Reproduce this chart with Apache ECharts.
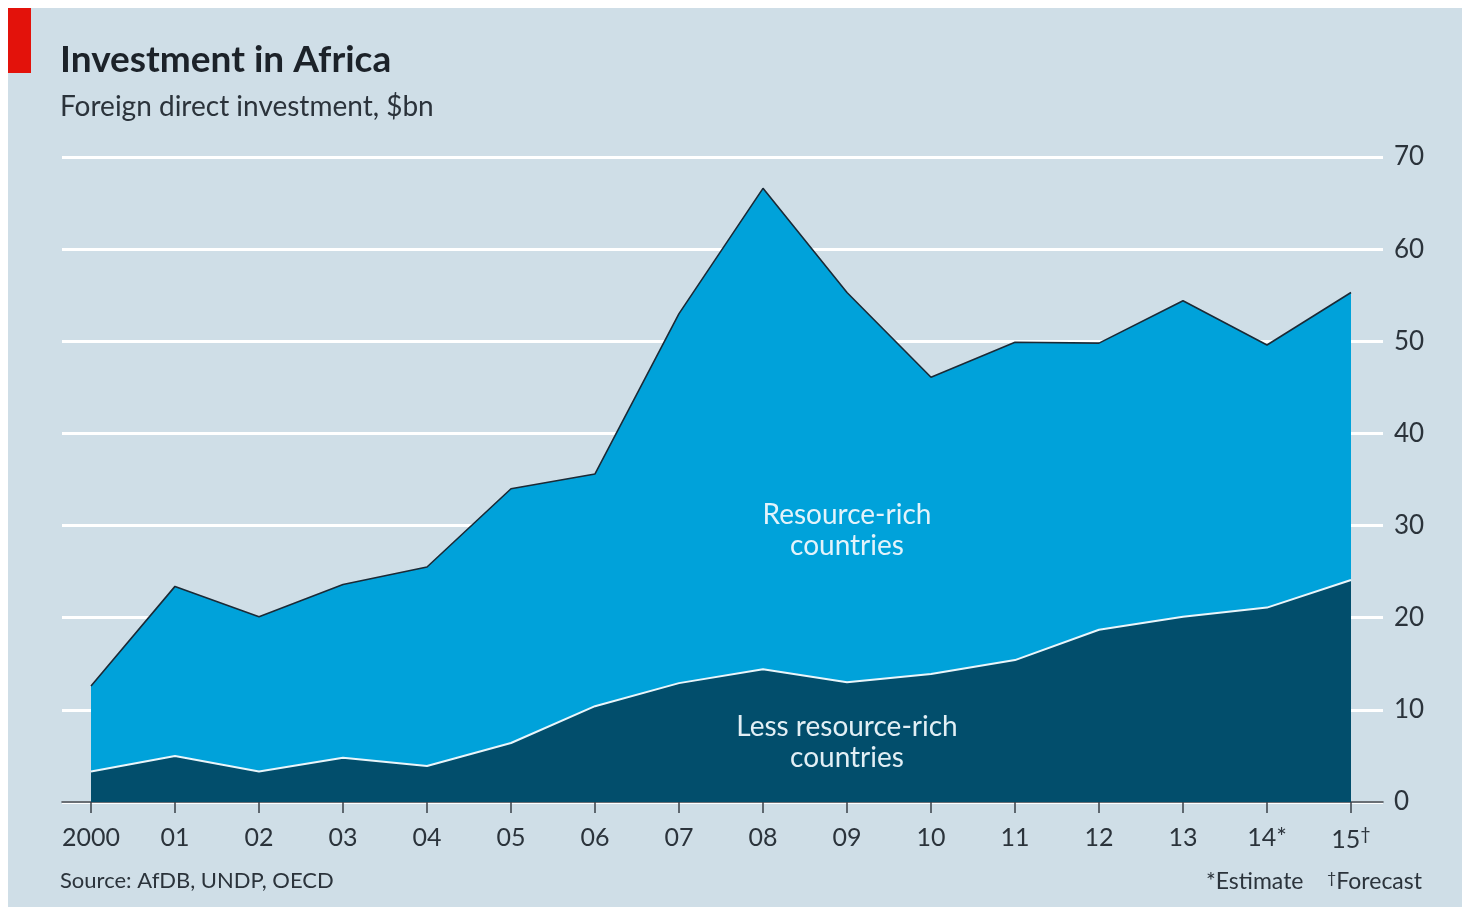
<!DOCTYPE html>
<html>
<head>
<meta charset="utf-8">
<script src="https://cdn.jsdelivr.net/npm/echarts@6/dist/echarts.min.js"></script>
<style>
html,body{margin:0;padding:0;background:#ffffff;width:1462px;height:907px;overflow:hidden;}
#c{position:absolute;left:8px;top:8px;width:1454px;height:899px;background:#cfdee7;}
</style>
</head>
<body>
<div id="c"></div>
<script>
const categories = ['2000','01','02','03','04','05','06','07','08','09','10','11','12','13','14*','15†'];
const lessResourceRich = [3.3, 5.0, 3.3, 4.8, 3.9, 6.4, 10.4, 12.9, 14.4, 13.0, 13.9, 15.4, 18.7, 20.1, 21.1, 24.1];
const resourceRich = [9.3, 18.4, 16.8, 18.8, 21.6, 27.6, 25.2, 40.1, 52.2, 42.3, 32.2, 34.5, 31.1, 34.3, 28.5, 31.2];
const yTicks = {min: 0, max: 70, interval: 10};

const FONT = 'Lato';
const TXT = '#2b333b';
const chart = echarts.init(document.getElementById('c'), null, {renderer: 'canvas'});

const option = {
  animation: false,
  textStyle: {fontFamily: FONT},
  grid: [
    {left: 54, right: 79, top: 149, bottom: 105},
    {left: 83, right: 111, top: 149, bottom: 105}
  ],
  xAxis: [
    {gridIndex: 0, type: 'value', min: 0, max: 1,
     axisLine: {show: true, onZero: false, lineStyle: {color: '#3a4048', width: 1.5}},
     axisTick: {show: false}, axisLabel: {show: false}, splitLine: {show: false}},
    {gridIndex: 1, type: 'category', data: categories, boundaryGap: false,
     axisLine: {show: false},
     axisTick: {show: true, interval: 0, length: 11, lineStyle: {color: '#3a4048', width: 1.5}},
     axisLabel: {
       interval: 0, margin: 23, fontSize: 25, color: TXT, fontFamily: FONT,
       formatter: function (v) {
         if (v.indexOf('†') >= 0) return v.replace('†', '') + '{sup|†}';
         return v;
       },
       rich: {sup: {fontSize: 18, verticalAlign: 'top', padding: [0, 0, 12, 0], color: TXT, fontFamily: FONT}}
     },
     splitLine: {show: false}}
  ],
  yAxis: [
    {gridIndex: 0, type: 'value', position: 'right', min: yTicks.min, max: yTicks.max, interval: yTicks.interval,
     axisLine: {show: false}, axisTick: {show: false},
     axisLabel: {margin: 11, fontSize: 26, color: TXT, fontFamily: FONT},
     splitLine: {show: true, lineStyle: {color: '#ffffff', width: 3}}},
    {gridIndex: 1, type: 'value', min: yTicks.min, max: yTicks.max,
     show: false, splitLine: {show: false}}
  ],
  series: [
    {name: 'Less resource-rich countries', type: 'line', xAxisIndex: 1, yAxisIndex: 1,
     stack: 'fdi', data: lessResourceRich, symbol: 'none', z: 4,
     lineStyle: {color: '#eaf6fb', width: 2},
     areaStyle: {color: '#024e6c', opacity: 1}},
    {name: 'Resource-rich countries', type: 'line', xAxisIndex: 1, yAxisIndex: 1,
     stack: 'fdi', data: resourceRich, symbol: 'none', z: 3,
     lineStyle: {color: '#1b2a36', width: 1.6},
     areaStyle: {color: '#00a2da', opacity: 1}}
  ],
  graphic: [
    {type: 'rect', left: 0, top: 0, shape: {width: 23, height: 65}, style: {fill: '#e3120b'}, z: 10},
    {type: 'text', left: 52, top: 34, z: 10,
     style: {text: 'Investment in Africa', font: 'bold 37px ' + FONT, fill: '#1c2229'}},
    {type: 'text', left: 52, top: 85, z: 10,
     style: {text: 'Foreign direct investment, $bn', font: '28px ' + FONT, fill: TXT}},
    {type: 'text', left: 52, top: 862, z: 10,
     style: {text: 'Source: AfDB, UNDP, OECD', font: '22px ' + FONT, fill: TXT}},
    {type: 'text', right: 40, top: 862, z: 10,
     style: {text: '*Estimate    {s|†}Forecast', font: '23px ' + FONT, fill: TXT,
       rich: {s: {fontSize: 16, verticalAlign: 'top', fill: TXT, fontFamily: FONT}}}},
    {type: 'text', z: 10, x: 839, y: 491,
     style: {text: 'Resource-rich\ncountries', font: '28px ' + FONT, fill: '#e3f3fb', align: 'center', lineHeight: 31}},
    {type: 'text', z: 10, x: 839, y: 703,
     style: {text: 'Less resource-rich\ncountries', font: '28px ' + FONT, fill: '#e2eff5', align: 'center', lineHeight: 31}}
  ]
};
chart.setOption(option);
</script>
</body>
</html>
